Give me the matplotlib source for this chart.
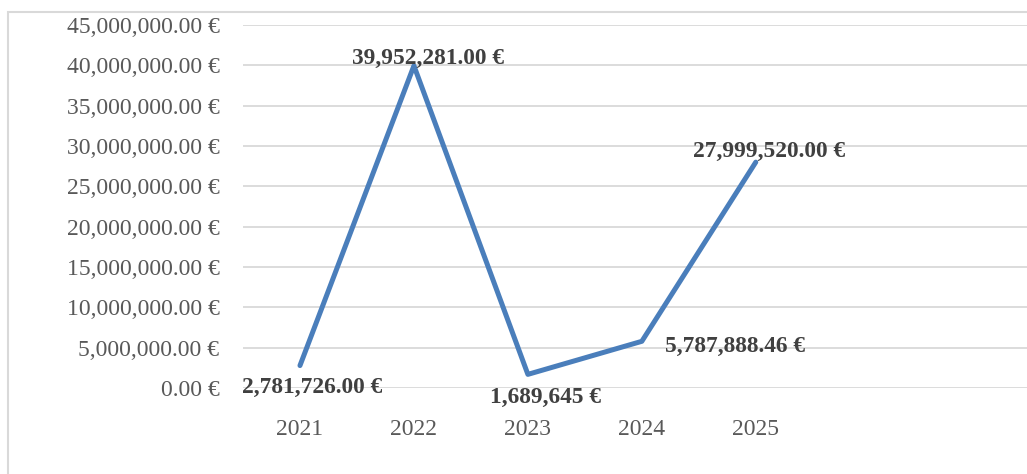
import matplotlib.pyplot as plt
from matplotlib.patches import Rectangle
from matplotlib.ticker import FuncFormatter

years = ['2021', '2022', '2023', '2024', '2025']
amounts = [2781726.00, 39952281.00, 1689645, 5787888.46, 27999520.00]
labels = ['2,781,726.00 €', '39,952,281.00 €', '1,689,645 €', '5,787,888.46 €', '27,999,520.00 €']
# where each data label sits: (dx, dy) in points, vertical alignment
label_pos = [((8.5, -8), 'top'), ((10, -2.5), 'bottom'), ((13, -9), 'top'), ((67, -4), 'center'), ((9.5, 0), 'bottom')]

plt.rcParams['font.family'] = ['Liberation Serif', 'DejaVu Serif']

fig = plt.figure(figsize=(10.27, 4.74), dpi=100)
ax = fig.add_axes([243/1027, 86/474, 1 - 243/1027, 363/474])

# outer chart border
fig.patches.append(Rectangle((8/1027, -0.1), 1.2, 462/474 + 0.1, transform=fig.transFigure,
                             fill=False, edgecolor='#d9d9d9', linewidth=1.5))

x = list(range(len(years)))
ax.plot(x, amounts, color='#4a7ebb', linewidth=3.6, solid_capstyle='round', zorder=3)

for i in x:
    (dx, dy), va = label_pos[i]
    ax.annotate(labels[i], (i, amounts[i]), xytext=(dx, dy), textcoords='offset points',
                ha='center', va=va, fontsize=16.8, fontweight='bold', color='#404040', zorder=4)

ax.set_ylim(0, 45000000)
ax.set_yticks(range(0, 45000001, 5000000))
ax.yaxis.set_major_formatter(FuncFormatter(lambda v, p: f'{v:,.2f} €'))
ax.set_xlim(-0.5, 6.38)
ax.set_xticks(x)
ax.set_xticklabels(years)
ax.tick_params(axis='y', length=0, pad=17, labelsize=17, labelcolor='#595959')
ax.tick_params(axis='x', length=0, pad=22, labelsize=17, labelcolor='#595959')
ax.grid(axis='y', color='#d9d9d9', linewidth=1.3)
ax.set_axisbelow(True)
for s in ax.spines.values():
    s.set_visible(False)

plt.savefig('out.png', dpi=100)
